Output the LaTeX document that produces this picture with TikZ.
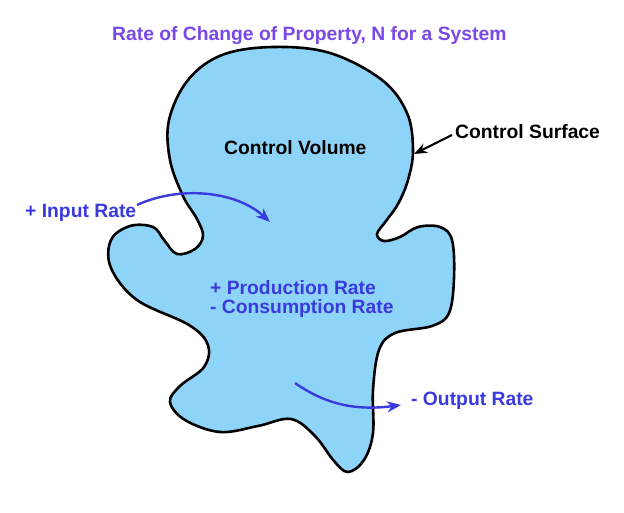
\documentclass[tikz,border=0pt]{standalone}
\usepackage{fontspec}
\setmainfont{Liberation Sans}
\usetikzlibrary{arrows.meta}
\definecolor{cvfill}{RGB}{142,212,248}
\definecolor{titlecol}{RGB}{122,72,232}
\definecolor{ratecol}{RGB}{58,58,222}
\tikzset{
  lbl/.style={anchor=base west, inner sep=0pt, font=\fontsize{19.3}{22}\selectfont\bfseries},
  flow/.style={ratecol, line width=2.4pt, -{Stealth[length=14pt,width=11pt]}},
  blob/.style={fill=cvfill, draw=black, line width=2.6pt, line join=round}
}
\begin{document}
\begin{tikzpicture}[x=1pt,y=-1pt]
\useasboundingbox[fill=white] (0,0) rectangle (624,512);
\draw[blob] plot[smooth cycle, tension=0.6] coordinates {
(273,47) (330,53) (382,80) (407,113) (413,150) (408,180) (398,204) (386,221)
(377,234) (384,241) (400,237) (418,227) (440,227) (452,240) (454,278) (449,313)
(432,326) (395,333) (379,350) (373,390) (373,433) (364,460) (348,472) (334,461)
(315,436) (291,419) (258,426) (220,432) (185,420) (170,402) (180,386) (204,367)
(208,345) (189,325) (137,300) (111,268) (111,240) (130,226) (153,227) (164,240)
(177,254) (195,249) (203,236) (197,219) (183,196) (170,160) (169,120) (188,80)
(222,55)};
\node[lbl, titlecol] (title) at (112,40) {Rate of Change of Property, N for a System};
\node[lbl] (cv) at (224,154) {Control Volume};
\node[lbl] (cs) at (455,138) {Control Surface};
\node[lbl, ratecol] (inp) at (25,217) {+ Input Rate};
\node[lbl, ratecol] (prod) at (210,294) {+ Production Rate};
\node[lbl, ratecol] (cons) at (210,313) {- Consumption Rate};
\node[lbl, ratecol] (outp) at (411,405) {- Output Rate};
\coordinate (inS) at (137,205);
\coordinate (inE) at (270,222);
\coordinate (outS) at (295,383);
\coordinate (outE) at (401,405);
\coordinate (csS) at (452,135);
\coordinate (csE) at (414,154);
\draw[flow] (inS) .. controls (178,186) and (235,190) .. (inE);
\draw[flow] (outS) .. controls (325,404) and (355,411) .. (outE);
\draw[black, line width=2.2pt, -{Stealth[length=13pt,width=10pt]}] (csS) -- (csE);
\end{tikzpicture}
\end{document}
